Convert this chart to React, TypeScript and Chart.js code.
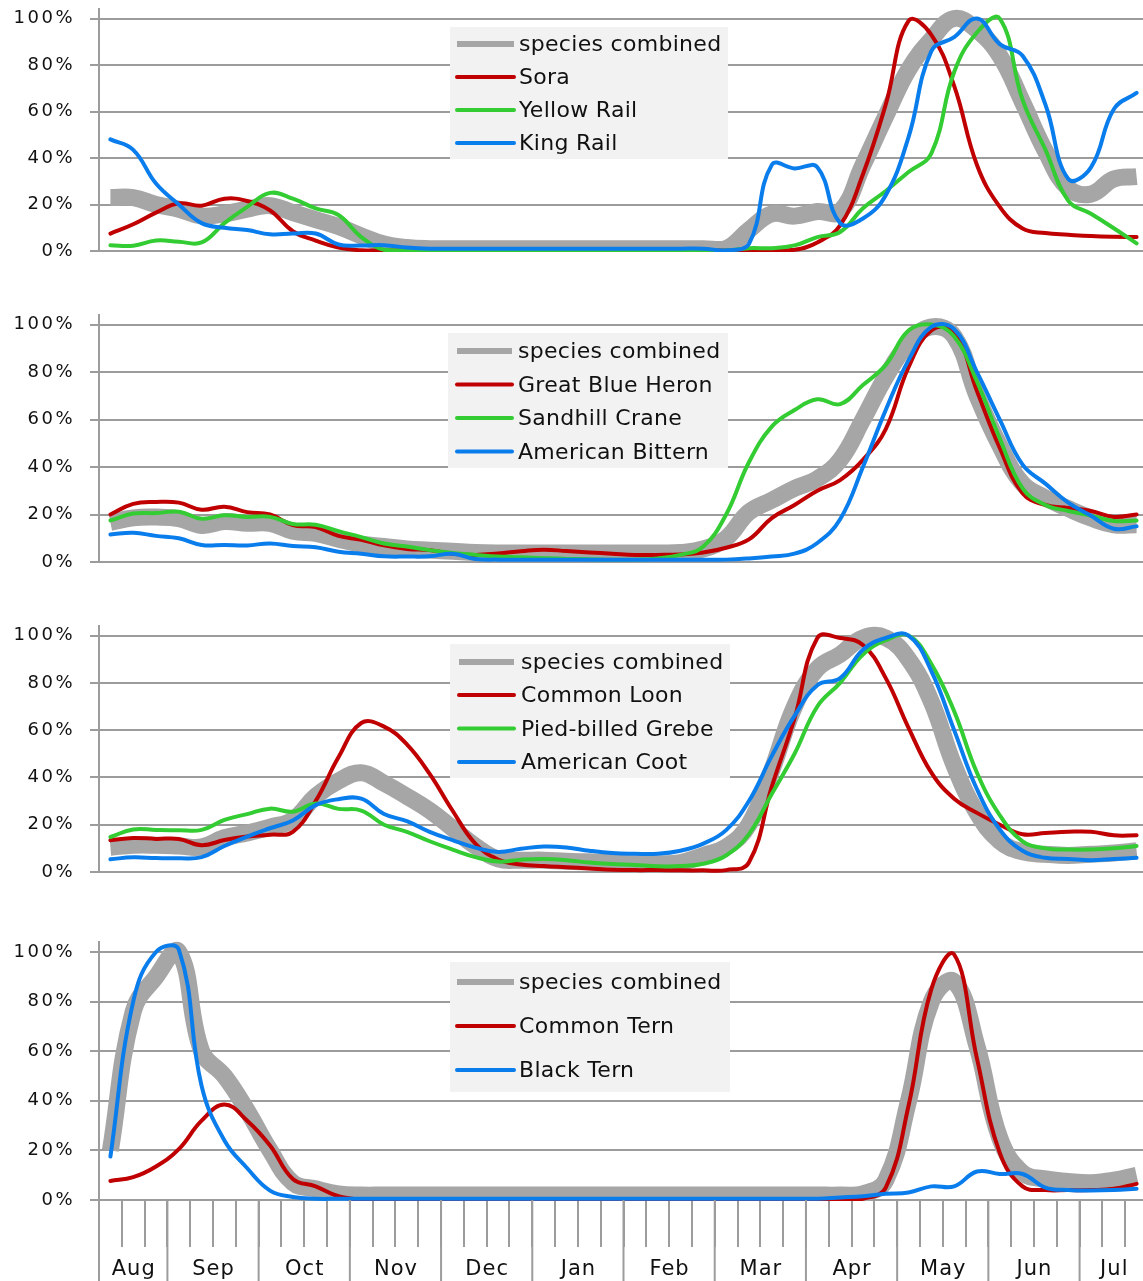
import React, { useEffect, useRef } from 'react';
import { Chart, registerables } from 'chart.js';

Chart.register(...registerables);

// ---------- axis data ----------
const monthNames = ['Aug', 'Sep', 'Oct', 'Nov', 'Dec', 'Jan', 'Feb', 'Mar', 'Apr', 'May', 'Jun', 'Jul'];
const weeksPerMonth = [3, 4, 4, 4, 4, 4, 4, 4, 4, 4, 4, 3];
const weekLabels = [
  'Aug 2', 'Aug 3', 'Aug 4',
  'Sep 1', 'Sep 2', 'Sep 3', 'Sep 4',
  'Oct 1', 'Oct 2', 'Oct 3', 'Oct 4',
  'Nov 1', 'Nov 2', 'Nov 3', 'Nov 4',
  'Dec 1', 'Dec 2', 'Dec 3', 'Dec 4',
  'Jan 1', 'Jan 2', 'Jan 3', 'Jan 4',
  'Feb 1', 'Feb 2', 'Feb 3', 'Feb 4',
  'Mar 1', 'Mar 2', 'Mar 3', 'Mar 4',
  'Apr 1', 'Apr 2', 'Apr 3', 'Apr 4',
  'May 1', 'May 2', 'May 3', 'May 4',
  'Jun 1', 'Jun 2', 'Jun 3', 'Jun 4',
  'Jul 1', 'Jul 2', 'Jul 3',
];
const yTickValues = [0, 20, 40, 60, 80, 100];

// ---------- panel 1: rails ----------
const railsCombined = [23, 23, 20, 18, 15, 16, 18, 19.5, 16.5, 13.5, 10.5, 6.5, 3, 1.5, 1, 1, 1, 1, 1, 1, 1, 1, 1, 1, 1, 1, 1, 1, 9, 16, 15, 17, 17, 37, 58, 78, 91, 100, 95, 84, 64, 43, 27, 24.5, 31, 32];
const sora = [7.5, 11.5, 16.5, 20.5, 19.5, 22.5, 21.5, 17.5, 8.5, 4.5, 1.5, 0.3, 0.2, 0.2, 0.2, 0.2, 0.2, 0.2, 0.2, 0.2, 0.2, 0.2, 0.2, 0.2, 0.2, 0.2, 0.2, 0.2, 0.2, 0.2, 0.5, 3.7, 11, 33, 63, 99, 93, 71, 37, 19, 9.7, 7.7, 7, 6.4, 6.1, 6];
const yellowRail = [2.5, 2.3, 4.5, 4, 3.7, 12, 19, 25, 22.5, 18.3, 15.5, 6, 0.5, 0.2, 0.2, 0.2, 0.2, 0.2, 0.2, 0.2, 0.2, 0.2, 0.2, 0.2, 0.2, 0.2, 0.2, 0.2, 1.2, 1.2, 2.4, 6, 8.2, 18.4, 25.8, 34, 42, 77, 94, 100, 65, 43.6, 21.7, 16, 9.8, 3.3];
const kingRail = [48, 43.5, 29, 20, 12, 10, 9, 7.2, 7.5, 7.5, 2.8, 2.4, 2.5, 1.5, 1, 1, 1, 1, 1, 1, 1, 1, 1, 1, 1, 1, 1, 0.3, 3, 37, 35.5, 36, 12, 14, 24, 49, 86, 92, 100, 89, 84, 63, 31, 36, 61, 68];

// ---------- panel 2: herons / cranes ----------
const waderCombined = [16.7, 18.6, 18.9, 18.3, 15.4, 17, 16.3, 16.3, 13, 12, 9.6, 7.5, 6.5, 5.5, 5, 4.5, 4, 3.8, 3.8, 3.8, 3.8, 3.8, 3.8, 3.8, 3.8, 4, 5.5, 10, 21, 26, 31, 35, 43, 60, 78, 92, 99, 95, 70, 49, 33, 27, 22.5, 18.5, 15.7, 15.7];
const greatBlueHeron = [20, 24.5, 25.3, 25, 22, 23.3, 21, 20, 15.5, 14.7, 11, 9.4, 7, 5.5, 5, 3.5, 3, 3.6, 4.5, 5.2, 4.6, 4, 3.5, 3, 3, 3.2, 4, 6, 9.5, 18.5, 24, 30, 34.5, 43, 56, 82, 97.5, 97, 72, 48, 29, 24, 22.8, 21.5, 19, 20];
const sandhillCrane = [17.5, 20.4, 20.6, 21.2, 18.2, 19.7, 19, 19, 16, 15.7, 13, 10.5, 7.8, 6.5, 5, 3.8, 3, 2.3, 2, 1.6, 1.3, 1.2, 1, 1, 1.5, 3, 6.5, 20, 42, 57, 64, 68.5, 66.5, 74.5, 83, 97.5, 100, 95, 76, 52, 31, 24, 21.5, 19.5, 17.3, 17.5];
const americanBittern = [11.6, 12.3, 11, 10, 7.2, 7.2, 7, 7.8, 6.7, 6.2, 4.3, 3.5, 2.4, 2.3, 2.4, 3.5, 1.3, 1, 1, 1, 1, 1, 1, 1, 1, 1, 1, 1, 1.5, 2.3, 3.5, 8, 18, 40, 64, 85, 99, 98, 80, 60, 41, 33, 25, 19.5, 14, 15];

// ---------- panel 3: waterbirds ----------
const waterCombined = [10.5, 11.3, 11.3, 11, 10.6, 14.5, 16.5, 19, 22, 32, 38.5, 42, 37.5, 32, 26, 18.5, 11, 5.5, 5, 5, 4.5, 4.3, 4, 3.5, 3.5, 4, 7, 10.5, 20, 43, 70, 86, 92, 99, 99, 90, 72, 45, 25, 13, 8.5, 7.5, 7, 7.5, 8, 9];
const commonLoon = [13.4, 14.4, 14, 14, 11.3, 13.5, 15, 15.8, 17, 30, 48.5, 63, 61.5, 54, 41.5, 26, 12, 5.3, 3.2, 2.5, 2, 1.5, 1, 0.8, 0.8, 0.7, 0.7, 0.8, 4, 36, 65, 99, 99, 96, 82, 61, 42, 31, 25, 20, 16, 16.5, 17, 17, 15.5, 15.5];
const piedBilledGrebe = [14.8, 18, 17.8, 17.7, 17.8, 22, 24.5, 26.8, 25.5, 29, 26.7, 26, 20, 17, 13, 9.5, 6.3, 4.4, 5.2, 5.5, 5, 4, 3.4, 3, 2.4, 2.5, 3.5, 7, 16, 33, 50, 70, 80, 92, 98, 100, 88, 68, 42, 24, 13, 10, 9.5, 9.5, 10, 11];
const americanCoot = [5.4, 6.2, 5.9, 5.8, 6.3, 11, 15, 18.5, 21.8, 28.3, 30.8, 31, 24.5, 21.5, 17, 13.5, 10.3, 8.5, 9.8, 10.8, 10.4, 9, 8, 7.7, 7.7, 9, 12, 17.7, 30, 49, 66, 79, 82, 94, 99, 100, 85, 60, 35, 18, 9, 6, 5.5, 5, 5.5, 6];

// ---------- panel 4: terns ----------
const ternCombined = [20, 76, 90, 100, 60, 50, 36, 20, 7, 4.5, 2.5, 2, 2, 2, 2, 2, 2, 2, 2, 2, 2, 2, 2, 2, 2, 2, 2, 2, 2, 2, 2, 2, 2, 2.5, 8, 40, 80, 88, 62, 25, 11, 8.5, 7.5, 7, 8, 10];
const commonTern = [7.7, 9.2, 13.5, 20.5, 32, 38.5, 32, 22, 8.5, 5.5, 1.5, 0.2, 0.2, 0.2, 0.2, 0.2, 0.2, 0.2, 0.2, 0.2, 0.2, 0.2, 0.2, 0.2, 0.2, 0.2, 0.2, 0.2, 0.2, 0.2, 0.2, 0.2, 0.2, 0.5, 5, 38, 85, 99, 57, 19, 5.5, 4, 4, 4, 4.5, 6.5];
const blackTern = [17.5, 80, 100, 101, 46, 24, 12.8, 3.8, 1.2, 0.5, 0.5, 0.5, 0.5, 0.5, 0.5, 0.5, 0.5, 0.5, 0.5, 0.5, 0.5, 0.5, 0.5, 0.5, 0.5, 0.5, 0.5, 0.5, 0.5, 0.5, 0.5, 0.5, 1, 1.5, 2.5, 3, 5.5, 5.5, 11.5, 10.5, 10.5, 5, 4, 3.8, 4, 4.5];

// ---------- styles ----------
const GRAY = '#a6a6a6';
const RED = '#c00000';
const GREEN = '#33cc33';
const BLUE = '#0a7ded';
const GRID = '#9c9c9c';
const FONT = "'DejaVu Sans', sans-serif";
const Y_MAX = 104;
const CANVAS_W = 1150;

type SeriesDef = { label: string; data: number[]; color: string; width: number; legendWidth: number; cap: CanvasLineCap };
type PanelDef = {
  y0: number; // page y of 0%
  y100: number; // page y of 100%
  bottomExtra: number;
  showMonths: boolean;
  series: SeriesDef[];
  legend: { box: [number, number, number, number]; swatch: [number, number]; textX: number; baselines: number[] };
};

const combined = (data: number[]): SeriesDef => ({ label: 'species combined', data, color: GRAY, width: 17, legendWidth: 6, cap: 'butt' });
const species = (label: string, data: number[], color: string): SeriesDef => ({ label, data, color, width: 4, legendWidth: 4, cap: 'round' });

const panels: PanelDef[] = [
  {
    y0: 263, y100: 19, bottomExtra: 12, showMonths: false,
    series: [combined(railsCombined), species('Sora', sora, RED), species('Yellow Rail', yellowRail, GREEN), species('King Rail', kingRail, BLUE)],
    legend: { box: [450, 27, 278, 132], swatch: [457, 514], textX: 519, baselines: [51, 84, 117, 150] },
  },
  {
    y0: 574, y100: 325, bottomExtra: 12, showMonths: false,
    series: [combined(waderCombined), species('Great Blue Heron', greatBlueHeron, RED), species('Sandhill Crane', sandhillCrane, GREEN), species('American Bittern', americanBittern, BLUE)],
    legend: { box: [448, 333, 280, 135], swatch: [457, 512], textX: 518, baselines: [358, 391.5, 425, 458.5] },
  },
  {
    y0: 884, y100: 636, bottomExtra: 12, showMonths: false,
    series: [combined(waterCombined), species('Common Loon', commonLoon, RED), species('Pied-billed Grebe', piedBilledGrebe, GREEN), species('American Coot', americanCoot, BLUE)],
    legend: { box: [450, 644, 280, 134], swatch: [459, 514], textX: 521, baselines: [669, 702, 735.5, 769] },
  },
  {
    y0: 1200, y100: 952, bottomExtra: 81, showMonths: true,
    series: [combined(ternCombined), species('Common Tern', commonTern, RED), species('Black Tern', blackTern, BLUE)],
    legend: { box: [450, 962, 280, 130], swatch: [457, 514], textX: 519, baselines: [989, 1033, 1077] },
  },
];

function PanelChart({ panel }: { panel: PanelDef }) {
  const ref = useRef<HTMLCanvasElement>(null);
  const chartTop = panel.y0 - (panel.y0 - panel.y100) * (Y_MAX / 100);
  const canvasTop = Math.round(chartTop) - 10;
  const padTop = chartTop - canvasTop;
  const height = Math.round(panel.y0 + panel.bottomExtra - canvasTop);

  useEffect(() => {
    const canvas = ref.current!;

    const spacingPlugin = {
      id: 'letterSpacing',
      beforeLayout(chart: any) { chart.ctx.letterSpacing = '2.5px'; },
      beforeDraw(chart: any) { chart.ctx.letterSpacing = '2.5px'; },
    };

    const legendPlugin = {
      id: 'boxLegend',
      afterDatasetsDraw(chart: any) {
        const ctx: CanvasRenderingContext2D = chart.ctx;
        const lg = panel.legend;
        ctx.save();
        (ctx as any).letterSpacing = '0.3px';
        ctx.fillStyle = '#f2f2f2';
        ctx.fillRect(lg.box[0], lg.box[1] - canvasTop, lg.box[2], lg.box[3]);
        ctx.font = `22px ${FONT}`;
        ctx.textBaseline = 'alphabetic';
        ctx.textAlign = 'left';
        panel.series.forEach((s, i) => {
          const by = lg.baselines[i] - canvasTop;
          const sy = by - 7;
          ctx.strokeStyle = s.color;
          ctx.lineWidth = s.legendWidth;
          ctx.lineCap = s.cap;
          ctx.beginPath();
          ctx.moveTo(lg.swatch[0], sy);
          ctx.lineTo(lg.swatch[1], sy);
          ctx.stroke();
          ctx.fillStyle = '#111';
          ctx.fillText(s.label, lg.textX, by);
        });
        ctx.restore();
      },
    };

    const monthPlugin = {
      id: 'monthAxis',
      afterDraw(chart: any) {
        if (!panel.showMonths) return;
        const ctx: CanvasRenderingContext2D = chart.ctx;
        const xs = chart.scales.x;
        const area = chart.chartArea;
        const step = xs.getPixelForValue(1) - xs.getPixelForValue(0);
        ctx.save();
        ctx.strokeStyle = GRID;
        ctx.lineWidth = 2;
        ctx.fillStyle = '#111';
        ctx.font = `21px ${FONT}`;
        (ctx as any).letterSpacing = '1px';
        ctx.textAlign = 'center';
        ctx.textBaseline = 'alphabetic';
        let idx = 0;
        monthNames.forEach((m, mi) => {
          const left = xs.getPixelForValue(idx) - step / 2;
          const right = xs.getPixelForValue(idx + weeksPerMonth[mi] - 1) + step / 2;
          ctx.beginPath();
          ctx.moveTo(left, area.bottom);
          ctx.lineTo(left, chart.height);
          ctx.stroke();
          ctx.fillText(m, (left + right) / 2 + 0.5, 1275 - canvasTop);
          idx += weeksPerMonth[mi];
        });
        ctx.restore();
      },
    };

    const chart = new Chart(canvas, {
      type: 'line',
      data: {
        labels: weekLabels,
        datasets: panel.series.map((s, i) => ({
          label: s.label,
          data: s.data,
          borderColor: s.color,
          backgroundColor: s.color,
          borderWidth: s.width,
          borderCapStyle: s.cap,
          borderJoinStyle: 'round',
          pointRadius: 0,
          pointHoverRadius: 0,
          tension: 0.42,
          fill: false,
          order: panel.series.length - i,
          clip: { left: 20, top: 20, right: 20, bottom: 1 },
        })) as any,
      },
      options: {
        responsive: false,
        animation: false,
        devicePixelRatio: 1,
        events: [],
        layout: { padding: { top: padTop, bottom: panel.showMonths ? 0 : panel.bottomExtra, left: 0, right: 2 } },
        plugins: { legend: { display: false }, tooltip: { enabled: false }, title: { display: false } },
        scales: {
          x: {
            type: 'category',
            offset: true,
            display: panel.showMonths,
            grid: { display: true, offset: true, drawOnChartArea: false, drawTicks: true, tickLength: 47, color: GRID, lineWidth: 2 },
            border: { display: false },
            ticks: { display: false, autoSkip: false },
            afterFit: (s: any) => { s.height = panel.bottomExtra; s.paddingLeft = 0; s.paddingRight = 0; },
          },
          y: {
            min: 0,
            max: Y_MAX,
            afterBuildTicks: (s: any) => { s.ticks = yTickValues.map((v) => ({ value: v })); },
            grid: { color: GRID, lineWidth: 2, tickLength: 9, drawTicks: true },
            border: { display: true, color: GRID, width: 2 },
            ticks: {
              callback: (v: any) => `${v}%`,
              font: { family: FONT, size: 18 },
              color: '#111',
              padding: 15,
            },
            afterFit: (s: any) => { s.width = 99; s.paddingTop = 0; s.paddingBottom = 0; },
          },
        },
      } as any,
      plugins: [spacingPlugin, legendPlugin, monthPlugin],
    });
    return () => chart.destroy();
  }, []);

  return (
    <canvas
      ref={ref}
      width={CANVAS_W}
      height={height}
      style={{ position: 'absolute', left: 0, top: canvasTop, display: 'block' }}
    />
  );
}

export default function App() {
  return (
    <div style={{ position: 'absolute', left: 0, top: 0, width: 1143, height: 1281, overflow: 'hidden', background: '#fff' }}>
      {panels.map((p, i) => (
        <PanelChart key={i} panel={p} />
      ))}
    </div>
  );
}
